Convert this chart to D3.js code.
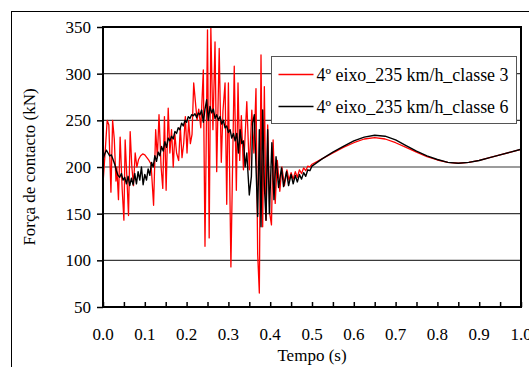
<!doctype html>
<meta charset="utf-8">
<title>Força de contacto</title>
<script src="https://cdn.jsdelivr.net/npm/d3@7/dist/d3.min.js"></script>
<style>
  body { margin: 0; background: #fff; }
  svg text { font-family: 'Liberation Serif', 'DejaVu Serif', serif; fill: #000; }
</style>
<div id="chart"></div>
<script>
  // eixos
  const yTicks = [50, 100, 150, 200, 250, 300, 350]
  const gridValues = [100, 150, 200, 250, 300]
  const xLabels = ['0.0', '0.1', '0.2', '0.3', '0.4', '0.5', '0.6', '0.7', '0.8', '0.9', '1.0']
  const xMinor = [0, 0.05, 0.1, 0.15, 0.2, 0.25, 0.3, 0.35, 0.4, 0.45, 0.5, 0.55, 0.6, 0.65, 0.7, 0.75, 0.8, 0.85, 0.9, 0.95, 1.0]
  const seriesNames = ['4º eixo_235 km/h_classe 3', '4º eixo_235 km/h_classe 6']

  // classe 3 (vermelho)
  const redT = [0.000, 0.005, 0.010, 0.014, 0.019, 0.023, 0.027, 0.031, 0.033, 0.037, 0.041, 0.046, 0.050, 0.053, 0.057, 0.061,
    0.065, 0.069, 0.073, 0.077, 0.081, 0.085, 0.090, 0.095, 0.100, 0.105, 0.110, 0.115, 0.121, 0.126, 0.130, 0.134,
    0.139, 0.143, 0.147, 0.151, 0.156, 0.160, 0.164, 0.168, 0.172, 0.176, 0.181, 0.185, 0.189, 0.193, 0.197, 0.201,
    0.205, 0.209, 0.213, 0.217, 0.221, 0.225, 0.229, 0.234, 0.240, 0.244, 0.250, 0.254, 0.258, 0.263, 0.268, 0.272,
    0.278, 0.283, 0.287, 0.292, 0.296, 0.300, 0.306, 0.314, 0.319, 0.323, 0.327, 0.331, 0.336, 0.344, 0.350, 0.356,
    0.361, 0.366, 0.370, 0.374, 0.378, 0.382, 0.386, 0.390, 0.394, 0.399, 0.403, 0.407, 0.412, 0.417, 0.423, 0.428,
    0.434, 0.440, 0.445, 0.450, 0.455, 0.460, 0.465, 0.470, 0.475, 0.480, 0.485, 0.490, 0.495, 0.500,
    0.525, 0.550, 0.575, 0.600, 0.625, 0.650, 0.675, 0.700, 0.725, 0.750, 0.775, 0.800, 0.825, 0.850, 0.875, 0.900,
    0.925, 0.950, 0.975, 1.000]
  const redV = [182, 215, 250, 245, 173, 250, 230, 185, 200, 165, 232, 175, 143, 229, 190, 148,
    238, 200, 180, 215, 200, 208, 212, 214, 213, 210, 207, 203, 159, 240, 210, 256,
    200, 177, 254, 175, 263, 215, 240, 200, 235, 215, 207, 243, 210, 225, 254, 215,
    250, 225, 235, 290, 270, 250, 262, 242, 304, 115, 347, 124, 349, 240, 334, 195,
    327, 205, 260, 290, 160, 290, 93, 308, 175, 290, 207, 255, 197, 270, 197, 261,
    215, 284, 107, 65, 320, 136, 286, 143, 245, 150, 138, 229, 161, 207, 174, 200,
    180, 197, 186, 194, 187, 195, 189, 197, 193, 199, 196, 201, 200, 203,
    209, 215, 221, 226, 230, 231.5, 230, 226, 221, 216, 211, 207.5, 205, 204, 205, 207,
    210, 213, 216, 219]

  // classe 6 (preto)
  const blackT = [0.000, 0.004, 0.008, 0.012, 0.016, 0.020, 0.024, 0.028, 0.032, 0.036, 0.040, 0.044, 0.048, 0.052, 0.056, 0.060,
    0.064, 0.068, 0.072, 0.076, 0.080, 0.084, 0.088, 0.092, 0.096, 0.100, 0.104, 0.108, 0.112, 0.116, 0.120, 0.124,
    0.128, 0.132, 0.136, 0.140, 0.144, 0.148, 0.152, 0.156, 0.160, 0.164, 0.168, 0.172, 0.176, 0.180, 0.184, 0.188,
    0.192, 0.196, 0.200, 0.204, 0.208, 0.212, 0.216, 0.220, 0.224, 0.228, 0.232, 0.236, 0.240, 0.244, 0.248, 0.252,
    0.256, 0.260, 0.264, 0.268, 0.272, 0.276, 0.280, 0.284, 0.288, 0.292, 0.296, 0.300, 0.304, 0.308, 0.312, 0.316,
    0.320, 0.324, 0.328, 0.332, 0.336, 0.340, 0.344, 0.350, 0.355, 0.358, 0.362, 0.366, 0.370, 0.374, 0.378, 0.382,
    0.386, 0.390, 0.394, 0.398, 0.404, 0.409, 0.414, 0.420, 0.427, 0.432, 0.439, 0.444, 0.450, 0.455, 0.460, 0.465,
    0.470, 0.475, 0.480, 0.485, 0.490, 0.495, 0.500,
    0.525, 0.550, 0.575, 0.600, 0.625, 0.650, 0.675, 0.700, 0.725, 0.750, 0.775, 0.800, 0.825, 0.850, 0.875, 0.900,
    0.925, 0.950, 0.975, 1.000]
  const blackV = [208, 214, 218, 215, 212, 213, 208, 203, 196, 191, 189, 193, 186, 189, 182, 190,
    180, 188, 181, 193, 182, 195, 186, 200, 181, 192, 186, 198, 191, 205, 200, 212,
    206, 216, 212, 222, 217, 227, 221, 231, 228, 233, 230, 238, 236, 242, 240, 247,
    244, 250, 248, 254, 252, 256, 255, 257, 253, 258, 256, 261, 248, 262, 272, 250,
    265, 258, 262, 252, 256, 250, 254, 246, 250, 242, 244, 237, 240, 231, 236, 228,
    236, 215, 240, 225, 228, 200, 215, 170, 190, 247, 256, 200, 147, 240, 136, 261,
    180, 143, 240, 150, 226, 165, 211, 178, 199, 179, 195, 180, 192, 182, 191, 184,
    192, 187, 194, 190, 197, 196, 201,
    209, 216, 222, 228, 232, 234, 233, 229, 223, 217, 212, 208, 205, 204, 205, 207,
    210, 213, 216, 219]

  const width = 529, height = 367
  const margin = { left: 103, right: 8, top: 27, bottom: 60 }

  const svg = d3.select('#chart')
    .append('svg')
    .attr('width', width)
    .attr('height', height)

  // moldura exterior
  svg.append('rect')
    .attr('x', 11.5).attr('y', 11.5)
    .attr('width', 540).attr('height', 380)
    .attr('fill', '#fff')
    .attr('stroke', '#000')
    .attr('stroke-width', 1)

  const x = d3.scaleLinear().domain([0, 1]).range([margin.left, width - margin.right])
  const y = d3.scaleLinear().domain([50, 350]).range([height - margin.bottom, margin.top])

  // linhas de grelha
  svg.append('g')
    .selectAll('line')
    .data(gridValues)
    .enter()
    .append('line')
    .attr('x1', x(0)).attr('x2', x(1))
    .attr('y1', d => y(d)).attr('y2', d => y(d))
    .attr('stroke', '#3a3a3a')
    .attr('stroke-width', 1.2)

  // series
  const line = d3.line()
    .x(d => x(d[0]))
    .y(d => y(d[1]))

  const redData = redT.map((t, i) => [t, redV[i]])
  const blackData = blackT.map((t, i) => [t, blackV[i]])

  svg.append('path')
    .attr('d', line(redData))
    .attr('fill', 'none')
    .attr('stroke', '#ff0000')
    .attr('stroke-width', 1.3)
    .attr('stroke-linejoin', 'round')

  svg.append('path')
    .attr('d', line(blackData))
    .attr('fill', 'none')
    .attr('stroke', '#000')
    .attr('stroke-width', 1.4)
    .attr('stroke-linejoin', 'round')

  // moldura da area do grafico
  svg.append('rect')
    .attr('x', x(0)).attr('y', y(350))
    .attr('width', x(1) - x(0)).attr('height', y(50) - y(350))
    .attr('fill', 'none')
    .attr('stroke', '#000')
    .attr('stroke-width', 2)

  // eixo y (ticks) + rotulos
  const yAxis = svg.append('g')
    .attr('transform', `translate(${x(0)},0)`)
    .call(d3.axisLeft(y).tickValues(yTicks).tickSize(6).tickFormat(''))
  yAxis.select('.domain').remove()
  yAxis.selectAll('line').attr('stroke', '#000').attr('stroke-width', 1.5)

  svg.append('g')
    .selectAll('text')
    .data(yTicks)
    .enter()
    .append('text')
    .attr('x', x(0) - 12)
    .attr('y', d => y(d) + 6)
    .attr('text-anchor', 'end')
    .style('font-size', '17px')
    .text(d => d)

  // eixo x
  const xAxis = svg.append('g')
    .attr('transform', `translate(0,${y(50)})`)
    .call(d3.axisBottom(x).tickValues(xMinor).tickSize(-5).tickFormat(''))
  xAxis.select('.domain').remove()
  xAxis.selectAll('line').attr('stroke', '#000').attr('stroke-width', 1.5)

  svg.append('g')
    .selectAll('text')
    .data(xLabels)
    .enter()
    .append('text')
    .attr('x', d => x(+d))
    .attr('y', y(50) + 33)
    .attr('text-anchor', 'middle')
    .style('font-size', '17px')
    .text(d => d)

  // titulos
  svg.append('text')
    .attr('x', (x(0) + x(1)) / 2)
    .attr('y', 361)
    .attr('text-anchor', 'middle')
    .style('font-size', '17px')
    .text('Tempo (s)')

  svg.append('text')
    .attr('transform', `translate(35,${(y(50) + y(350)) / 2}) rotate(-90)`)
    .attr('text-anchor', 'middle')
    .style('font-size', '17px')
    .text('Força de contacto (kN)')

  // legenda
  const legend = svg.append('g').attr('transform', 'translate(271.5,56.5)')
  legend.append('rect')
    .attr('width', 245).attr('height', 67)
    .attr('fill', '#fff')
    .attr('stroke', '#555')
    .attr('stroke-width', 1)

  const colors = ['#ff0000', '#000']
  const items = legend.selectAll('.item')
    .data(seriesNames)
    .enter()
    .append('g')
    .attr('transform', (d, i) => `translate(0,${18 + i * 32})`)
  items.append('line')
    .attr('x1', 7).attr('x2', 42)
    .attr('y1', 0).attr('y2', 0)
    .attr('stroke', (d, i) => colors[i])
    .attr('stroke-width', 1.5)
  items.append('text')
    .attr('x', 45)
    .attr('y', 6)
    .attr('textLength', 192)
    .attr('lengthAdjust', 'spacingAndGlyphs')
    .style('font-size', '18px')
    .text(d => d)
</script>
